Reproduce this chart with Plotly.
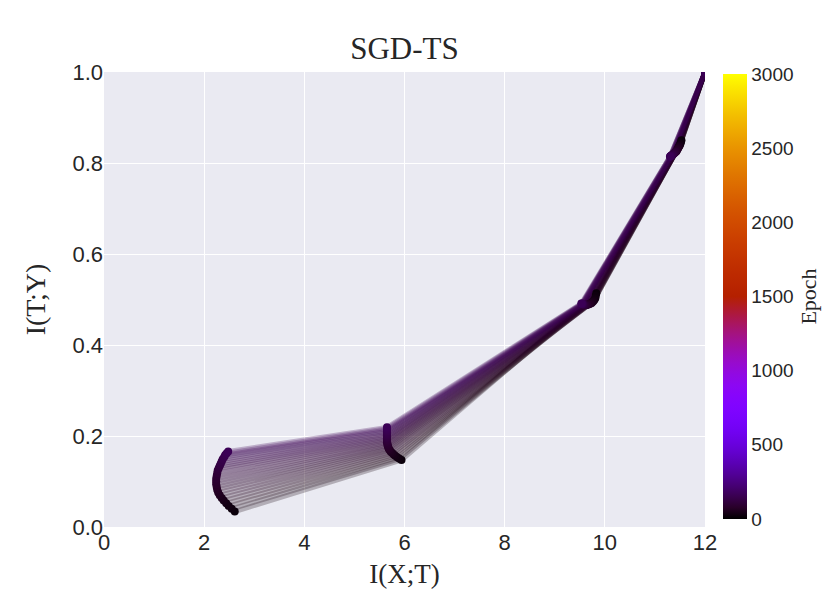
import math
import plotly.graph_objects as go

# ---------------- data ----------------
epochs = [20, 26, 32, 38, 44, 50, 56, 62, 68, 74, 80, 86, 92, 98, 104, 110, 116, 122, 128, 134, 140, 146, 152, 158, 164]

# layer 1 (input side)
layer1_ixt = [12.0, 12.0, 12.0, 12.0, 12.0, 12.0, 12.0, 12.0, 12.0, 12.0, 12.0, 12.0, 12.0, 12.0, 12.0, 12.0, 12.0, 12.0, 12.0, 12.0, 12.0, 12.0, 12.0, 12.0, 12.0]
layer1_ity = [1.0, 1.0, 1.0, 1.0, 1.0, 1.0, 1.0, 1.0, 1.0, 1.0, 1.0, 1.0, 1.0, 1.0, 1.0, 1.0, 1.0, 1.0, 1.0, 1.0, 1.0, 1.0, 1.0, 1.0, 1.0]

layer2_ixt = [11.53, 11.52, 11.51, 11.50, 11.49, 11.48, 11.47, 11.46, 11.45, 11.44, 11.43, 11.42, 11.41, 11.40, 11.39, 11.38, 11.37, 11.36, 11.35, 11.34, 11.33, 11.32, 11.31, 11.31, 11.30]
layer2_ity = [0.850, 0.846, 0.843, 0.840, 0.838, 0.836, 0.834, 0.832, 0.830, 0.828, 0.826, 0.825, 0.824, 0.823, 0.822, 0.821, 0.820, 0.819, 0.818, 0.817, 0.816, 0.816, 0.815, 0.815, 0.814]

layer3_ixt = [9.83, 9.82, 9.81, 9.79, 9.77, 9.75, 9.73, 9.71, 9.69, 9.67, 9.65, 9.64, 9.62, 9.61, 9.60, 9.59, 9.58, 9.57, 9.56, 9.56, 9.55, 9.55, 9.54, 9.54, 9.53]
layer3_ity = [0.514, 0.508, 0.503, 0.499, 0.496, 0.494, 0.492, 0.491, 0.490, 0.489, 0.489, 0.488, 0.488, 0.488, 0.488, 0.488, 0.489, 0.489, 0.489, 0.490, 0.490, 0.490, 0.490, 0.491, 0.491]

layer4_ixt = [5.94, 5.90, 5.86, 5.82, 5.79, 5.76, 5.73, 5.71, 5.69, 5.68, 5.67, 5.66, 5.66, 5.65, 5.65, 5.65, 5.65, 5.65, 5.65, 5.65, 5.65, 5.65, 5.65, 5.65, 5.65]
layer4_ity = [0.147, 0.150, 0.153, 0.156, 0.159, 0.162, 0.165, 0.168, 0.171, 0.174, 0.177, 0.180, 0.183, 0.186, 0.189, 0.192, 0.195, 0.198, 0.201, 0.204, 0.207, 0.210, 0.213, 0.216, 0.219]

layer5_ixt = [2.61, 2.55, 2.49, 2.44, 2.39, 2.35, 2.31, 2.28, 2.26, 2.25, 2.24, 2.24, 2.24, 2.25, 2.26, 2.27, 2.29, 2.31, 2.33, 2.35, 2.37, 2.40, 2.42, 2.45, 2.48]
layer5_ity = [0.034, 0.040, 0.046, 0.052, 0.058, 0.064, 0.070, 0.076, 0.082, 0.088, 0.094, 0.100, 0.106, 0.112, 0.118, 0.124, 0.129, 0.134, 0.139, 0.144, 0.149, 0.154, 0.158, 0.162, 0.166]

max_epoch = 3000
colorbar_ticks = [0, 500, 1000, 1500, 2000, 2500, 3000]
x_ticks = [0, 2, 4, 6, 8, 10, 12]
y_ticks = [0.0, 0.2, 0.4, 0.6, 0.8, 1.0]

# ---------------- gnuplot colormap ----------------
def gnuplot(v):
    v = min(max(v, 0.0), 1.0)
    r = math.sqrt(v)
    g = v ** 3
    b = max(math.sin(2 * math.pi * v), 0.0)
    return int(round(r * 255)), int(round(g * 255)), int(round(b * 255))

scale = []
for i in range(41):
    v = i / 40
    r, g, b = gnuplot(v)
    scale.append([v, f"rgb({r},{g},{b})"])

layers_x = [layer1_ixt, layer2_ixt, layer3_ixt, layer4_ixt, layer5_ixt]
layers_y = [layer1_ity, layer2_ity, layer3_ity, layer4_ity, layer5_ity]

SERIF = "Liberation Serif, Times New Roman, serif"
SANS = "Liberation Sans, Arial, sans-serif"

fig = go.Figure()

for i, ep in enumerate(epochs):
    r, g, b = gnuplot(ep / max_epoch)
    fig.add_trace(go.Scatter(
        x=[lx[i] for lx in layers_x],
        y=[ly[i] for ly in layers_y],
        mode="lines",
        line=dict(color=f"rgba({r},{g},{b},0.26)", width=5),
        hoverinfo="skip",
        showlegend=False,
    ))

mx, my, mc = [], [], []
for i, ep in enumerate(epochs):
    for lx, ly in zip(layers_x, layers_y):
        mx.append(lx[i])
        my.append(ly[i])
        mc.append(ep)

fig.add_trace(go.Scatter(
    x=mx, y=my, mode="markers",
    marker=dict(
        size=8, color=mc, colorscale=scale, cmin=0, cmax=max_epoch,
        line=dict(width=0),
        showscale=True,
        colorbar=dict(
            title=dict(text="Epoch", side="right",
                       font=dict(family=SERIF, size=22, color="#262626")),
            tickvals=colorbar_ticks,
            ticktext=[str(t) for t in colorbar_ticks],
            tickfont=dict(family=SANS, size=19, color="#262626"),
            thickness=24, len=0.978, lenmode="fraction",
            x=1.0295, xanchor="left", y=0.0176, yanchor="bottom",
            xpad=0, ypad=0,
            outlinewidth=0, ticks="", ticklen=0,
        ),
    ),
    showlegend=False,
))

# page body adds an 8px offset, so the figure is 8px smaller and shifted
fig.update_layout(
    width=822, height=585,
    margin=dict(l=96, r=125, t=64, b=66, autoexpand=False),
    paper_bgcolor="white",
    plot_bgcolor="#eaeaf2",
    title=dict(text="SGD-TS", x=0.5, xref="paper", xanchor="center",
               y=1 - 40 / 585, yref="container", yanchor="middle",
               font=dict(family=SERIF, size=31, color="#262626")),
    xaxis=dict(
        range=[0, 12], tickvals=x_ticks, ticktext=[str(t) for t in x_ticks],
        showgrid=True, gridcolor="white", gridwidth=1.2, zeroline=False, showline=False,
        tickfont=dict(family=SANS, size=22, color="#262626"),
        title=dict(text="I(X;T)", font=dict(family=SERIF, size=27, color="#262626"), standoff=10),
        ticks="",
    ),
    yaxis=dict(
        range=[0, 1], tickvals=y_ticks, ticktext=[f"{t:.1f}" for t in y_ticks],
        showgrid=True, gridcolor="white", gridwidth=1.2, zeroline=False, showline=False,
        tickfont=dict(family=SANS, size=22, color="#262626"),
        title=dict(text="I(T;Y)", font=dict(family=SERIF, size=28, color="#262626"), standoff=18),
        ticks="",
    ),
)

fig.write_html("out.html")
